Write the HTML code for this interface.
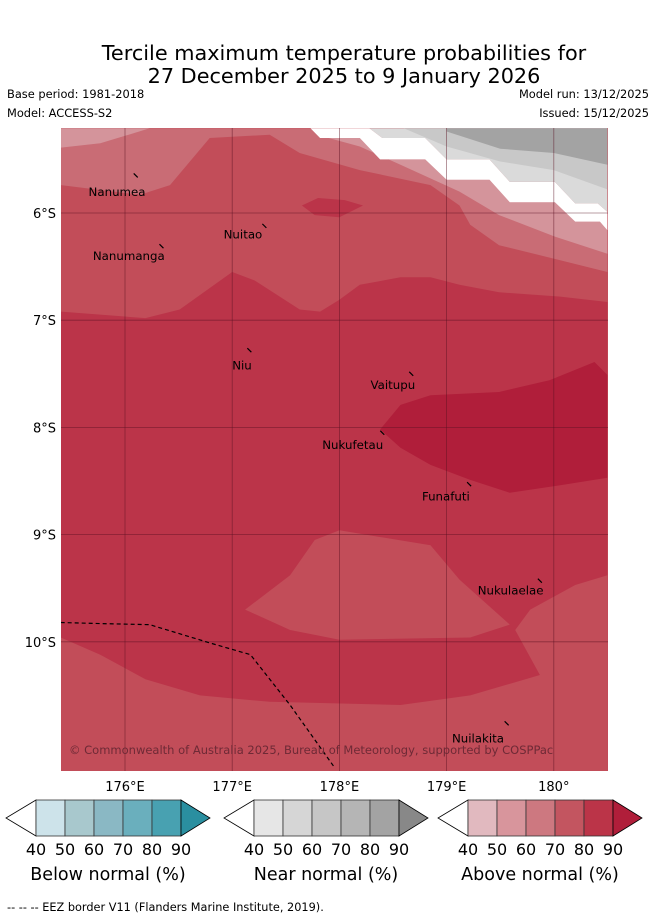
<!DOCTYPE html>
<html><head><meta charset="utf-8"><style>
body{margin:0;background:#fff;width:655px;height:919px;overflow:hidden;font-family:"DejaVu Sans","Liberation Sans",sans-serif;position:relative}
.t{position:absolute;white-space:nowrap;color:#000}
</style></head><body>
<div class="t" style="left:0;width:688px;text-align:center;top:41px;font-size:20.8px">Tercile maximum temperature probabilities for</div>
<div class="t" style="left:0;width:688px;text-align:center;top:64px;font-size:20.8px">27 December 2025 to 9 January 2026</div>
<div class="t" style="left:7px;top:87px;font-size:11.4px">Base period: 1981-2018</div>
<div class="t" style="left:7px;top:106px;font-size:11.4px">Model: ACCESS-S2</div>
<div class="t" style="right:6px;top:87px;font-size:11.4px">Model run: 13/12/2025</div>
<div class="t" style="right:6px;top:106px;font-size:11.4px">Issued: 15/12/2025</div>
<svg id="map" width="655" height="919" style="position:absolute;left:0;top:0" font-family="DejaVu Sans, Liberation Sans, sans-serif"></svg>
<script>
// contour data in lon/lat
const baseColor='#c24d59';
const contourColors=['#c96c75','#d4949b','#d4949b','#ffffff','#dadada','#c8c8c8','#a3a3a3','#bb3449','#c24d59','#c24d59','#b01e3a','#bb3449'];
const contourNames=['above-60-70-north','above-50-60-northwest','above-50-60-northeast','no-signal-strip','near-40-60','near-60-70','near-80-90','above-80-90-main','above-70-80-south','above-70-80-blob','above-90-plus','above-80-90-north-blob'];
const contours=[
[[175.4,-5.21],[175.4,-5.74],[176.14,-5.83],[176.42,-5.74],[176.79,-5.30],[177.35,-5.27],[177.63,-5.44],[178.19,-5.60],[178.85,-5.74],[179.12,-5.93],[179.22,-6.11],[179.49,-6.30],[180.06,-6.44],[180.5,-6.55],[180.5,-5.21]],
[[175.4,-5.21],[175.4,-5.39],[175.77,-5.35],[176.23,-5.21]],
[[177.73,-5.21],[177.82,-5.30],[178.19,-5.30],[178.38,-5.50],[178.80,-5.50],[179.0,-5.69],[179.40,-5.69],[179.59,-5.90],[180.01,-5.90],[180.20,-6.08],[180.43,-6.08],[180.5,-6.16],[180.5,-6.38],[180.01,-6.22],[179.49,-6.02],[179.12,-5.80],[178.57,-5.55],[178.19,-5.38],[177.9,-5.30]],
[[178.28,-5.21],[178.40,-5.30],[178.80,-5.30],[179.0,-5.50],[179.40,-5.50],[179.59,-5.71],[180.01,-5.71],[180.20,-5.91],[180.41,-5.91],[180.5,-5.99],[180.5,-6.16],[180.43,-6.08],[180.20,-6.08],[180.01,-5.90],[179.59,-5.90],[179.40,-5.69],[179.0,-5.69],[178.80,-5.50],[178.38,-5.50],[178.19,-5.30],[177.82,-5.30],[177.73,-5.21]],
[[178.28,-5.21],[178.40,-5.30],[178.80,-5.30],[179.0,-5.50],[179.40,-5.50],[179.59,-5.71],[180.01,-5.71],[180.20,-5.91],[180.41,-5.91],[180.5,-5.99],[180.5,-5.21]],
[[178.6,-5.21],[179.0,-5.38],[179.5,-5.52],[180.0,-5.60],[180.5,-5.78],[180.5,-5.21]],
[[179.0,-5.21],[179.0,-5.24],[179.5,-5.40],[180.0,-5.44],[180.5,-5.55],[180.5,-5.21]],
[[175.4,-6.92],[176.19,-6.98],[176.51,-6.90],[177.0,-6.55],[177.21,-6.63],[177.63,-6.90],[177.82,-6.92],[178.0,-6.81],[178.19,-6.67],[178.57,-6.60],[178.85,-6.60],[179.12,-6.67],[179.49,-6.74],[180.06,-6.78],[180.5,-6.83],[180.5,-11.21],[175.4,-11.21]],
[[175.4,-9.96],[175.77,-10.12],[176.19,-10.35],[176.70,-10.50],[177.35,-10.56],[178.57,-10.59],[179.22,-10.50],[179.87,-10.31],[179.64,-9.89],[179.78,-9.70],[180.20,-9.47],[180.5,-9.38],[180.5,-11.21],[175.4,-11.21]],
[[177.12,-9.70],[177.54,-9.38],[177.77,-9.05],[178.0,-8.96],[178.85,-9.10],[179.12,-9.42],[179.59,-9.84],[179.22,-9.96],[178.0,-9.98],[177.54,-9.89]],
[[178.38,-8.02],[178.57,-7.79],[178.85,-7.70],[179.49,-7.67],[179.96,-7.56],[180.38,-7.39],[180.5,-7.51],[180.5,-8.47],[180.06,-8.54],[179.59,-8.61],[179.22,-8.49],[178.85,-8.35],[178.57,-8.19]],
[[177.65,-5.93],[177.80,-5.86],[178.05,-5.88],[178.22,-5.93],[178.0,-6.04],[177.77,-6.02]]
];
const eez=[[175.4,-9.82],[175.77,-9.83],[176.23,-9.84],[176.79,-10.01],[177.17,-10.12],[177.54,-10.59],[177.96,-11.18]];
const islands=['Nanumea','Nuitao','Nanumanga','Niu','Vaitupu','Nukufetau','Funafuti','Nukulaelae','Nuilakita'];
const islandLon=[176.10,177.30,176.34,177.16,178.67,178.40,179.21,179.87,179.56];
const islandLat=[-5.65,-6.12,-6.31,-7.28,-7.50,-8.05,-8.53,-9.43,-10.76];
const labelLon=[175.66,176.92,175.70,177.0,178.29,177.84,178.77,179.29,179.05];
const labelLat=[-5.84,-6.24,-6.44,-7.46,-7.64,-8.20,-8.68,-9.56,-10.94];
const lonTicks=[176,177,178,179,180];
const lonLabels=['176°E','177°E','178°E','179°E','180°'];
const latTicks=[-6,-7,-8,-9,-10];
const latLabels=['6°S','7°S','8°S','9°S','10°S'];
function X(lon){return 125+(lon-176)*107.2;}
function Y(lat){return 213+(-6-lat)*107.2;}
const svg=document.getElementById('map');
const NS='http://www.w3.org/2000/svg';
function mk(t,a,p){const e=document.createElementNS(NS,t);for(const k in a)e.setAttribute(k,a[k]);(p||svg).appendChild(e);return e;}
const clip=mk('clipPath',{id:'mc'});mk('rect',{x:61,y:128,width:547,height:643},clip);
const g=mk('g',{'clip-path':'url(#mc)'});
const bg=mk('rect',{x:61,y:128,width:547,height:643,fill:baseColor},g);


contours.forEach((c,i)=>{
 const p=mk('polygon',{points:c.map(q=>X(q[0]).toFixed(1)+','+Y(q[1]).toFixed(1)).join(' '),fill:contourColors[i]},g);
 
 
});
lonTicks.forEach((v,i)=>{
 const l=mk('line',{x1:X(v),x2:X(v),y1:128,y2:771,stroke:'#5a1020','stroke-opacity':0.55,'stroke-width':0.8},g);
 
 
 const t=mk('text',{x:X(v),y:791,'text-anchor':'middle','font-size':13});t.textContent=lonLabels[i];
 
 
});
latTicks.forEach((v,i)=>{
 const l=mk('line',{x1:61,x2:608,y1:Y(v),y2:Y(v),stroke:'#5a1020','stroke-opacity':0.55,'stroke-width':0.8},g);
 
 
 const t=mk('text',{x:56,y:Y(v)+5,'text-anchor':'end','font-size':13});t.textContent=latLabels[i];
 
 
});
const ez=mk('polyline',{points:eez.map(q=>X(q[0])+','+Y(q[1])).join(' '),fill:'none',stroke:'#000','stroke-width':1.2,'stroke-dasharray':'4,3'},g);


islands.forEach((n,i)=>{
 const m=mk('line',{x1:X(islandLon[i])-2,y1:Y(islandLat[i])-2,x2:X(islandLon[i])+2,y2:Y(islandLat[i])+2,stroke:'#000','stroke-width':1.2},g);
 
 
 const t=mk('text',{x:X(labelLon[i]),y:Y(labelLat[i]),'font-size':11.8},g);t.textContent=n;
 
 
});
const cp=mk('text',{x:69,y:754,'font-size':11.5,fill:'#6e2a36'},g);cp.textContent='© Commonwealth of Australia 2025, Bureau of Meteorology, supported by COSPPac';


// colorbars
const cbTitles=['Below normal (%)','Near normal (%)','Above normal (%)'];
const cbStart=[36,254,468];
const cbColors=[['#cde3ea','#a8c8cd','#8ab8c4','#6aafbd','#48a1b1','#2a8fa0'],['#e6e6e6','#d6d6d6','#c6c6c6','#b5b5b5','#a3a3a3','#888888'],['#e1b9bf','#d8959c','#cd7880','#c35560','#bb3448','#b01e3a']];
const cbTicks=['40','50','60','70','80','90'];
cbStart.forEach((x0,b)=>{
 const w=29,y0=800,h=36;
 const L=mk('polygon',{points:`${x0},${y0} ${x0-30},${y0+h/2} ${x0},${y0+h}`,fill:'#fff',stroke:'#000','stroke-width':0.8});
 
 
 for(let k=0;k<5;k++){const r=mk('rect',{x:x0+k*w,y:y0,width:w,height:h,fill:cbColors[b][k],stroke:'#333','stroke-width':0.8});
 
 }
 const e=x0+5*w;
 const R=mk('polygon',{points:`${e},${y0} ${e+29},${y0+h/2} ${e},${y0+h}`,fill:cbColors[b][5],stroke:'#000','stroke-width':0.8});
 
 
 cbTicks.forEach((tk,k)=>{const t=mk('text',{x:x0+k*w,y:855,'text-anchor':'middle','font-size':16});t.textContent=tk;
 
 });
 const tt=mk('text',{x:x0+72,y:880,'text-anchor':'middle','font-size':17.5});tt.textContent=cbTitles[b];
 
 
});
const ft=mk('text',{x:7,y:911,'font-size':11.3});ft.textContent='--  --  -- EEZ border V11 (Flanders Marine Institute, 2019).';


</script>
</body></html>
